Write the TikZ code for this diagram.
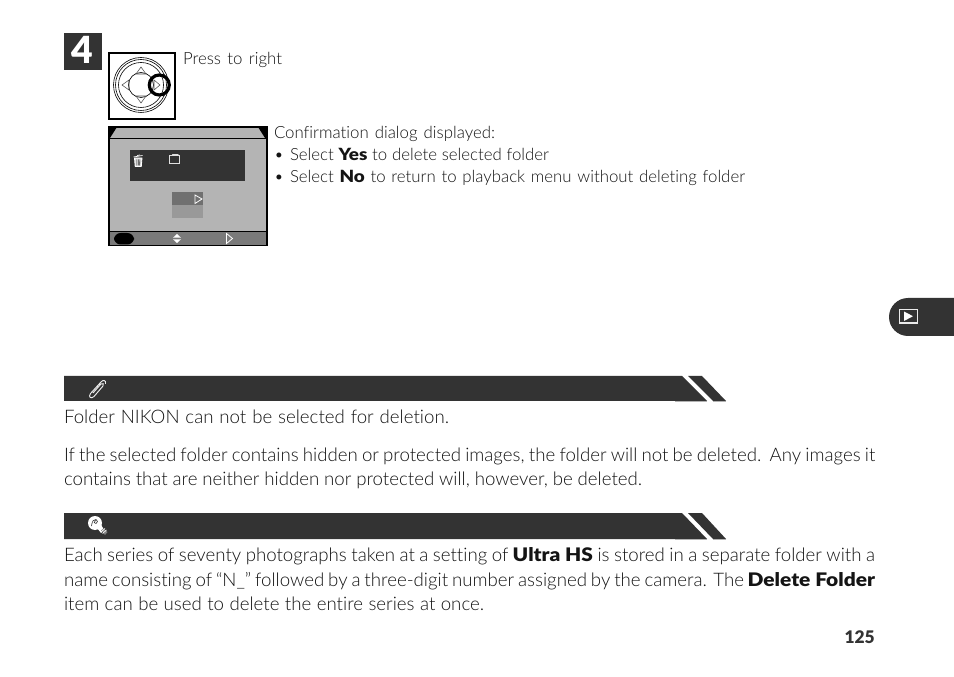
\documentclass[tikz,border=0pt]{standalone}
\usepackage{graphicx}
\usepackage{fontspec}
\setmainfont{Lato Light}[BoldFont={Lato Black},Ligatures={TeX,NoCommon}]
\newfontfamily\stepfont{Lato Black}
\definecolor{ink}{HTML}{333333}
\definecolor{scr}{HTML}{B4B4B4}
\newcommand{\fitw}[2]{\makebox[\dimexpr 0.75pt*#1\relax][s]{#2}}
\newcommand{\wideb}[1]{\scalebox{1.12}[1]{\textbf{#1}}}
\tikzset{
  body/.style={anchor=base west,inner sep=0pt,outer sep=0pt,font=\fontsize{14pt}{16pt}\selectfont,text=black!92},
  small/.style={anchor=base west,inner sep=0pt,outer sep=0pt,font=\fontsize{12.6pt}{14pt}\selectfont,text=black!92},
  banner/.style={fill=ink,draw=none},
  frame/.style={draw=black,line width=1.2pt},
  ring/.style={draw=black,line width=0.45pt},
  tri/.style={draw=black!70,line width=0.4pt},
  wicon/.style={draw=white,line width=0.6pt}
}
\begin{document}
\begin{tikzpicture}[x=0.75pt,y=-0.75pt]
\useasboundingbox (0,0) rectangle (954,677);
\fill[white] (0,0) rectangle (954,677);
% step number
\fill[ink] (64,33) rectangle (102,70);
\node[inner sep=0pt,text=white,font=\stepfont\fontsize{28pt}{30pt}\selectfont,anchor=base] (stepno) at (82.5,64) {4};
% button
\draw[frame] (109,53) rectangle (175,119);
\draw[ring] (141,85) circle (27.5);
\draw[ring] (141,85) circle (25.5);
\draw[ring] (141,85) circle (22.5);
\draw[ring] (141,85) circle (12.5);
\draw[tri] (141,67) -- (146,74) -- (136,74) -- cycle;
\draw[tri] (141,103) -- (146,96) -- (136,96) -- cycle;
\draw[tri] (122,85) -- (129,80) -- (129,90) -- cycle;
\draw[tri] (160,85) -- (154,80) -- (154,90) -- cycle;
\draw[black,line width=2.4pt] (159.3,85) circle (10);
\node[small] (press) at (183,65) {\fitw{99}{Press to right}};
% screen
\fill[scr] (109,127) rectangle (266,245);
\fill[black] (109,127) -- (117,127) -- (110,138) -- (109,138) -- cycle;
\fill[black] (266,127) -- (258,127) -- (265,138) -- (266,138) -- cycle;
\draw[black,line width=0.6pt] (109,138.5) -- (266,138.5);
\fill[ink] (130,150) rectangle (245,181);
\fill[black!56] (172,192) rectangle (203,205);
\fill[black!40] (172,205) rectangle (203,218);
\draw[wicon] (195,195) -- (202,199) -- (195,203.5) -- cycle;
\fill[black!52] (109,232) rectangle (266,245);
\draw[black,line width=0.9pt] (109,231.5) -- (266,231.5);
\fill[black,rounded corners=5pt] (114,233) rectangle (134,244.5);
\fill[white] (177,234) -- (181,237.7) -- (173,237.7) -- cycle;
\fill[white] (177,243) -- (181,239.3) -- (173,239.3) -- cycle;
\draw[wicon] (226.5,233.5) -- (232.5,238.5) -- (226.5,243.5) -- cycle;
\draw[frame] (108.8,126.8) rectangle (267,245.5);
% trash icon
\draw[white,line width=0.5pt] (133.5,157) -- (142.5,155.5);
\draw[white,line width=0.5pt] (137,155.5) -- (140,155);
\draw[white,line width=0.6pt,fill=white!85!ink] (134.5,158) -- (142,158) -- (141.3,166.5) -- (135.2,166.5) -- cycle;
\draw[ink,line width=0.4pt] (136.8,159.5) -- (136.9,165.5) (138.3,159.5) -- (138.3,165.5) (139.8,159.5) -- (139.7,165.5);
% folder icon
\draw[white!85!ink,line width=0.5pt] (169.5,155.5) rectangle (179.5,163.5);
\draw[white!85!ink,line width=0.5pt] (172,155.5) -- (172.5,154.5) -- (178,154.5) -- (178.5,155.5);
% dialog text
\node[small] (conf) at (274,139) {\fitw{221}{Confirmation dialog displayed:}};
\node[small] (b1) at (274,161) {•};
\node[small] (y1) at (290,161) {\fitw{259}{Select \wideb{Yes} to delete selected folder}};
\node[small] (b2) at (274,183) {•};
\node[small] (n1) at (290,183) {\fitw{455}{Select \wideb{No} to return to playback menu without deleting folder}};
% tab
\fill[ink] (954,298) -- (908,298) arc[start angle=270,end angle=90,radius=19] -- (954,336) -- cycle;
\draw[white!90!ink,line width=0.9pt] (899.5,309.5) rectangle (917.5,323);
\fill[white] (904,311.5) -- (913,316.2) -- (904,321) -- cycle;
% banner 1
\fill[banner] (64,376) -- (682,376) -- (707,401) -- (64,401) -- cycle;
\fill[banner] (688,376) -- (702,376) -- (726,401) -- (713,401) -- cycle;
\draw[black!30,line width=0.4pt] (675,401.3) -- (707,401.3) (713,401.3) -- (726,401.3);
\draw[white!90!ink,line width=0.7pt] (105.5,384) .. controls (106.5,380) and (103,379.5) .. (101,382) -- (90.5,393.5) .. controls (88,397) and (91,399.5) .. (94,396.5) -- (103,386) .. controls (104.5,384) and (102.5,382.5) .. (101,384) -- (93,393);
\node[body] (l1) at (64,424) {\fitw{385}{Folder NIKON can not be selected for deletion.}};
\node[body] (l2) at (64,461) {\fitw{811}{If the selected folder contains hidden or protected images, the folder will not be deleted.\ \ Any images it}};
\node[body] (l3) at (64,485) {\fitw{578}{contains that are neither hidden nor protected will, however, be deleted.}};
% banner 2
\fill[banner] (64,513) -- (682,513) -- (707,539) -- (64,539) -- cycle;
\fill[banner] (688,513) -- (702,513) -- (726,539) -- (713,539) -- cycle;
\draw[black!30,line width=0.4pt] (675,539.3) -- (707,539.3) (713,539.3) -- (726,539.3);
% bulb icon
\fill[white] (95,523) circle (7);
\fill[white] (97,528) -- (101,524.5) -- (104,530) -- (101,533) -- cycle;
\fill[black!50] (101,530.5) -- (103.5,528.5) -- (107.5,532) -- (105,535) -- cycle;
\draw[white,line width=0.5pt] (101,532) -- (105,528.5) (102.5,533.5) -- (106.5,530);
\draw[ink,line width=0.45pt] (91.5,526) .. controls (92,521) and (94,519) .. (96,519.5) .. controls (98,520) and (98,523) .. (96,523.5) .. controls (94,524) and (93.5,521.5) .. (95.5,520.5);
\node[body] (l4) at (64,561) {\fitw{811}{Each series of seventy photographs taken at a setting of \wideb{Ultra HS} is stored in a separate folder with a}};
\node[body] (l5) at (64,586) {\fitw{811}{name consisting of ``N\_'' followed by a three-digit number assigned by the camera. The \wideb{Delete Folder}}};
\node[body] (l6) at (64,610) {\fitw{420}{item can be used to delete the entire series at once.}};
\node[anchor=base east,inner sep=0pt,font=\bfseries\fontsize{13pt}{15pt}\selectfont,text=ink] (pg) at (875,643) {125};
\end{tikzpicture}
\end{document}
